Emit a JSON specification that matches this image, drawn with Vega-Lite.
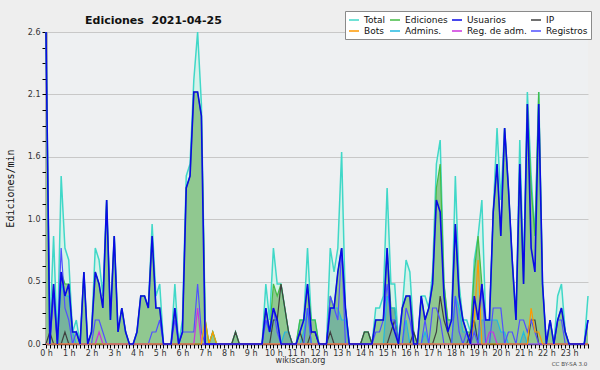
{
"$schema": "https://vega.github.io/schema/vega-lite/v6.json",
"width": 542, "height": 312,
"autosize": {"type": "none"},
"padding": {"left": 46, "top": 32, "right": 12, "bottom": 26},
"background": "#eeeeee",
"title": {"text": "Ediciones\u00a0 2021-04-25", "anchor": "start", "frame": "group", "dx": 39, "dy": 24, "offset": 0, "font": "DejaVu Sans", "fontSize": 11, "fontWeight": "bold", "color": "#111111", "baseline": "alphabetic"},
"data": {"values": [
{"t":0,"T":2.6,"E":2.6,"U":2.6,"I":0,"B":0,"A":0,"M":0,"R":0},
{"t":10,"T":0.1,"E":0.1,"U":0,"I":0.1,"B":0,"A":0,"M":0,"R":0},
{"t":20,"T":0.9,"E":0.5,"U":0.5,"I":0,"B":0,"A":0,"M":0,"R":0.4},
{"t":30,"T":0,"E":0,"U":0,"I":0,"B":0,"A":0,"M":0,"R":0},
{"t":40,"T":1.4,"E":0.6,"U":0.6,"I":0,"B":0,"A":0.5,"M":0,"R":0.8},
{"t":50,"T":0.8,"E":0.5,"U":0.4,"I":0.1,"B":0,"A":0.4,"M":0,"R":0.3},
{"t":60,"T":0.7,"E":0.5,"U":0.5,"I":0,"B":0,"A":0.4,"M":0,"R":0.2},
{"t":70,"T":0.1,"E":0.1,"U":0.1,"I":0,"B":0,"A":0.1,"M":0,"R":0},
{"t":80,"T":0.2,"E":0.1,"U":0.1,"I":0,"B":0,"A":0,"M":0,"R":0.1},
{"t":90,"T":0,"E":0,"U":0,"I":0,"B":0,"A":0,"M":0,"R":0},
{"t":100,"T":0.6,"E":0.6,"U":0.6,"I":0,"B":0,"A":0,"M":0,"R":0},
{"t":110,"T":0,"E":0,"U":0,"I":0,"B":0,"A":0,"M":0,"R":0},
{"t":120,"T":0.1,"E":0.1,"U":0.1,"I":0,"B":0,"A":0,"M":0,"R":0},
{"t":130,"T":0.8,"E":0.6,"U":0.6,"I":0,"B":0,"A":0,"M":0,"R":0.2},
{"t":140,"T":0.7,"E":0.5,"U":0.5,"I":0,"B":0,"A":0,"M":0.1,"R":0.2},
{"t":150,"T":0.4,"E":0.3,"U":0.3,"I":0,"B":0,"A":0,"M":0,"R":0.1},
{"t":160,"T":1.2,"E":1.2,"U":1.2,"I":0,"B":0,"A":0,"M":0,"R":0},
{"t":170,"T":0.2,"E":0.2,"U":0.2,"I":0,"B":0,"A":0,"M":0,"R":0},
{"t":180,"T":0.9,"E":0.9,"U":0.9,"I":0,"B":0,"A":0,"M":0,"R":0},
{"t":190,"T":0.1,"E":0.1,"U":0.1,"I":0,"B":0,"A":0,"M":0,"R":0},
{"t":200,"T":0.3,"E":0.3,"U":0.3,"I":0,"B":0,"A":0,"M":0,"R":0},
{"t":210,"T":0.1,"E":0.1,"U":0.1,"I":0,"B":0,"A":0,"M":0,"R":0},
{"t":220,"T":0,"E":0,"U":0,"I":0,"B":0,"A":0,"M":0,"R":0},
{"t":230,"T":0,"E":0,"U":0,"I":0,"B":0,"A":0,"M":0,"R":0},
{"t":240,"T":0.1,"E":0.1,"U":0.1,"I":0,"B":0,"A":0,"M":0,"R":0},
{"t":250,"T":0.4,"E":0.4,"U":0.4,"I":0,"B":0,"A":0,"M":0,"R":0},
{"t":260,"T":0.4,"E":0.4,"U":0.4,"I":0,"B":0,"A":0,"M":0,"R":0},
{"t":270,"T":0.3,"E":0.3,"U":0.3,"I":0,"B":0,"A":0,"M":0,"R":0},
{"t":280,"T":1.0,"E":0.9,"U":0.9,"I":0,"B":0,"A":0,"M":0,"R":0.1},
{"t":290,"T":0.4,"E":0.3,"U":0.3,"I":0,"B":0,"A":0,"M":0,"R":0.1},
{"t":300,"T":0.5,"E":0.3,"U":0.3,"I":0,"B":0,"A":0,"M":0,"R":0.2},
{"t":310,"T":0,"E":0,"U":0,"I":0,"B":0,"A":0,"M":0,"R":0},
{"t":320,"T":0,"E":0,"U":0,"I":0,"B":0,"A":0,"M":0,"R":0},
{"t":330,"T":0,"E":0,"U":0,"I":0,"B":0,"A":0,"M":0,"R":0},
{"t":340,"T":0.5,"E":0.3,"U":0.3,"I":0,"B":0,"A":0,"M":0,"R":0.2},
{"t":350,"T":0,"E":0,"U":0,"I":0,"B":0,"A":0,"M":0,"R":0},
{"t":360,"T":0.2,"E":0.1,"U":0.1,"I":0,"B":0,"A":0,"M":0,"R":0.1},
{"t":370,"T":1.4,"E":1.3,"U":1.3,"I":0,"B":0,"A":0,"M":0,"R":0.1},
{"t":380,"T":1.5,"E":1.4,"U":1.4,"I":0,"B":0,"A":0,"M":0,"R":0.1},
{"t":390,"T":2.2,"E":2.1,"U":2.1,"I":0,"B":0,"A":0,"M":0,"R":0.1},
{"t":400,"T":2.6,"E":2.1,"U":2.1,"I":0,"B":0,"A":0,"M":0.3,"R":0.5},
{"t":410,"T":2.0,"E":1.9,"U":1.9,"I":0,"B":0,"A":0,"M":0,"R":0.1},
{"t":420,"T":0.2,"E":0.2,"U":0,"I":0,"B":0.2,"A":0,"M":0,"R":0},
{"t":430,"T":0,"E":0,"U":0,"I":0,"B":0,"A":0,"M":0,"R":0},
{"t":440,"T":0.1,"E":0.1,"U":0,"I":0,"B":0.1,"A":0,"M":0,"R":0},
{"t":450,"T":0,"E":0,"U":0,"I":0,"B":0,"A":0,"M":0,"R":0},
{"t":460,"T":0,"E":0,"U":0,"I":0,"B":0,"A":0,"M":0,"R":0},
{"t":470,"T":0,"E":0,"U":0,"I":0,"B":0,"A":0,"M":0,"R":0},
{"t":480,"T":0,"E":0,"U":0,"I":0,"B":0,"A":0,"M":0,"R":0},
{"t":490,"T":0,"E":0,"U":0,"I":0,"B":0,"A":0,"M":0,"R":0},
{"t":500,"T":0.1,"E":0.1,"U":0,"I":0.1,"B":0,"A":0,"M":0,"R":0},
{"t":510,"T":0,"E":0,"U":0,"I":0,"B":0,"A":0,"M":0,"R":0},
{"t":520,"T":0,"E":0,"U":0,"I":0,"B":0,"A":0,"M":0,"R":0},
{"t":530,"T":0,"E":0,"U":0,"I":0,"B":0,"A":0,"M":0,"R":0},
{"t":540,"T":0,"E":0,"U":0,"I":0,"B":0,"A":0,"M":0,"R":0},
{"t":550,"T":0,"E":0,"U":0,"I":0,"B":0,"A":0,"M":0,"R":0},
{"t":560,"T":0,"E":0,"U":0,"I":0,"B":0,"A":0,"M":0,"R":0},
{"t":570,"T":0,"E":0,"U":0,"I":0,"B":0,"A":0,"M":0,"R":0},
{"t":580,"T":0.5,"E":0.3,"U":0.3,"I":0,"B":0,"A":0.2,"M":0,"R":0.2},
{"t":590,"T":0.2,"E":0.1,"U":0.1,"I":0,"B":0,"A":0.1,"M":0,"R":0.1},
{"t":600,"T":0.8,"E":0.5,"U":0.3,"I":0.2,"B":0,"A":0.2,"M":0,"R":0.3},
{"t":610,"T":0.5,"E":0.4,"U":0.2,"I":0.2,"B":0,"A":0.2,"M":0,"R":0.1},
{"t":620,"T":0.5,"E":0.5,"U":0,"I":0.5,"B":0,"A":0,"M":0,"R":0},
{"t":630,"T":0.3,"E":0.3,"U":0,"I":0.3,"B":0,"A":0.1,"M":0,"R":0},
{"t":640,"T":0.1,"E":0.1,"U":0,"I":0.1,"B":0,"A":0.1,"M":0,"R":0},
{"t":650,"T":0,"E":0,"U":0,"I":0,"B":0,"A":0,"M":0,"R":0},
{"t":660,"T":0,"E":0,"U":0,"I":0,"B":0,"A":0,"M":0,"R":0},
{"t":670,"T":0.2,"E":0.2,"U":0.1,"I":0.1,"B":0,"A":0,"M":0,"R":0},
{"t":680,"T":0.2,"E":0.2,"U":0.2,"I":0,"B":0,"A":0.1,"M":0,"R":0},
{"t":690,"T":0.8,"E":0.5,"U":0.5,"I":0,"B":0,"A":0.3,"M":0,"R":0.3},
{"t":700,"T":0.2,"E":0.2,"U":0.1,"I":0.1,"B":0,"A":0,"M":0,"R":0},
{"t":710,"T":0.2,"E":0.2,"U":0.1,"I":0.1,"B":0,"A":0,"M":0,"R":0},
{"t":720,"T":0,"E":0,"U":0,"I":0,"B":0,"A":0,"M":0,"R":0},
{"t":730,"T":0,"E":0,"U":0,"I":0,"B":0,"A":0,"M":0,"R":0},
{"t":740,"T":0,"E":0,"U":0,"I":0,"B":0,"A":0,"M":0,"R":0},
{"t":750,"T":0.8,"E":0.4,"U":0.3,"I":0.1,"B":0,"A":0.3,"M":0,"R":0.4},
{"t":760,"T":0.6,"E":0.3,"U":0.3,"I":0,"B":0,"A":0.3,"M":0,"R":0.3},
{"t":770,"T":0.8,"E":0.6,"U":0.6,"I":0,"B":0,"A":0.3,"M":0,"R":0.2},
{"t":780,"T":1.6,"E":0.8,"U":0.8,"I":0,"B":0,"A":0.2,"M":0,"R":0.8},
{"t":790,"T":0.3,"E":0.3,"U":0.3,"I":0,"B":0,"A":0.2,"M":0,"R":0},
{"t":800,"T":0,"E":0,"U":0,"I":0,"B":0,"A":0,"M":0,"R":0},
{"t":810,"T":0,"E":0,"U":0,"I":0,"B":0,"A":0,"M":0,"R":0},
{"t":820,"T":0,"E":0,"U":0,"I":0,"B":0,"A":0,"M":0,"R":0},
{"t":830,"T":0,"E":0,"U":0,"I":0,"B":0,"A":0,"M":0,"R":0},
{"t":840,"T":0.1,"E":0.1,"U":0,"I":0.1,"B":0,"A":0,"M":0,"R":0},
{"t":850,"T":0.1,"E":0.1,"U":0,"I":0.1,"B":0,"A":0,"M":0,"R":0},
{"t":860,"T":0,"E":0,"U":0,"I":0,"B":0,"A":0,"M":0,"R":0},
{"t":870,"T":0.3,"E":0.2,"U":0.2,"I":0,"B":0,"A":0,"M":0,"R":0.1},
{"t":880,"T":0.3,"E":0.2,"U":0.2,"I":0,"B":0,"A":0,"M":0,"R":0.1},
{"t":890,"T":0.4,"E":0.2,"U":0.2,"I":0,"B":0,"A":0,"M":0,"R":0.2},
{"t":900,"T":1.3,"E":0.8,"U":0.8,"I":0,"B":0,"A":0.4,"M":0,"R":0.5},
{"t":910,"T":0.5,"E":0.3,"U":0.2,"I":0.1,"B":0,"A":0.3,"M":0,"R":0.2},
{"t":920,"T":0.5,"E":0.3,"U":0.1,"I":0.2,"B":0,"A":0.3,"M":0,"R":0.2},
{"t":930,"T":0,"E":0,"U":0,"I":0,"B":0,"A":0,"M":0,"R":0},
{"t":940,"T":0.3,"E":0.3,"U":0.3,"I":0,"B":0,"A":0,"M":0,"R":0},
{"t":950,"T":0.7,"E":0.4,"U":0.4,"I":0,"B":0,"A":0.2,"M":0,"R":0.3},
{"t":960,"T":0.6,"E":0.4,"U":0.4,"I":0,"B":0,"A":0,"M":0,"R":0.2},
{"t":970,"T":0.1,"E":0.1,"U":0,"I":0.1,"B":0,"A":0,"M":0,"R":0},
{"t":980,"T":0,"E":0,"U":0,"I":0,"B":0,"A":0,"M":0,"R":0},
{"t":990,"T":0.4,"E":0.4,"U":0.4,"I":0,"B":0,"A":0,"M":0,"R":0},
{"t":1000,"T":0.4,"E":0.2,"U":0.2,"I":0,"B":0,"A":0.1,"M":0,"R":0.2},
{"t":1010,"T":0.3,"E":0.3,"U":0.3,"I":0,"B":0,"A":0,"M":0,"R":0},
{"t":1020,"T":0.6,"E":0.5,"U":0.5,"I":0,"B":0,"A":0,"M":0,"R":0.3},
{"t":1030,"T":1.5,"E":1.3,"U":1.2,"I":0.1,"B":0,"A":0,"M":0,"R":0.3},
{"t":1040,"T":1.7,"E":1.5,"U":1.1,"I":0.4,"B":0,"A":0,"M":0,"R":0.2},
{"t":1050,"T":0.5,"E":0.5,"U":0.4,"I":0.2,"B":0,"A":0,"M":0,"R":0},
{"t":1060,"T":0.2,"E":0.2,"U":0.1,"I":0.1,"B":0,"A":0,"M":0,"R":0},
{"t":1070,"T":0.2,"E":0.2,"U":0.2,"I":0,"B":0,"A":0,"M":0,"R":0},
{"t":1080,"T":1.4,"E":1.0,"U":1.0,"I":0,"B":0,"A":0.4,"M":0,"R":0.4},
{"t":1090,"T":0.5,"E":0.4,"U":0.4,"I":0,"B":0,"A":0.3,"M":0,"R":0.1},
{"t":1100,"T":0.2,"E":0.2,"U":0.2,"I":0,"B":0,"A":0.1,"M":0,"R":0},
{"t":1110,"T":0.2,"E":0.1,"U":0.1,"I":0,"B":0,"A":0.1,"M":0,"R":0.1},
{"t":1120,"T":0.1,"E":0.1,"U":0,"I":0.1,"B":0,"A":0,"M":0,"R":0},
{"t":1130,"T":0.7,"E":0.6,"U":0.4,"I":0.2,"B":0.2,"A":0.2,"M":0,"R":0.1},
{"t":1140,"T":0.9,"E":0.9,"U":0.2,"I":0,"B":0.7,"A":0,"M":0,"R":0},
{"t":1150,"T":1.2,"E":0.5,"U":0.5,"I":0,"B":0,"A":0.2,"M":0,"R":0.5},
{"t":1160,"T":0.2,"E":0.2,"U":0.2,"I":0,"B":0,"A":0.2,"M":0,"R":0},
{"t":1170,"T":0.2,"E":0.2,"U":0.2,"I":0,"B":0,"A":0.2,"M":0.1,"R":0},
{"t":1180,"T":1.1,"E":1.1,"U":1.1,"I":0,"B":0,"A":0.2,"M":0.1,"R":0.3},
{"t":1190,"T":1.8,"E":1.5,"U":1.5,"I":0,"B":0,"A":0.2,"M":0,"R":0.3},
{"t":1200,"T":1.2,"E":0.9,"U":0.9,"I":0,"B":0,"A":0.1,"M":0,"R":0.3},
{"t":1210,"T":1.8,"E":1.8,"U":1.8,"I":0,"B":0,"A":0.1,"M":0,"R":0},
{"t":1220,"T":1.3,"E":1.3,"U":1.3,"I":0,"B":0,"A":0,"M":0,"R":0.1},
{"t":1230,"T":0.7,"E":0.7,"U":0.7,"I":0,"B":0,"A":0,"M":0,"R":0.1},
{"t":1240,"T":0.2,"E":0.2,"U":0.2,"I":0,"B":0,"A":0,"M":0,"R":0},
{"t":1250,"T":1.7,"E":1.5,"U":1.5,"I":0,"B":0,"A":0,"M":0,"R":0.2},
{"t":1260,"T":0.6,"E":0.5,"U":0.5,"I":0,"B":0,"A":0.1,"M":0,"R":0.2},
{"t":1270,"T":2.1,"E":2.0,"U":2.0,"I":0,"B":0,"A":0,"M":0,"R":0.1},
{"t":1280,"T":1.4,"E":1.3,"U":0.8,"I":0.2,"B":0.3,"A":0,"M":0,"R":0.2},
{"t":1290,"T":0.9,"E":0.9,"U":0.6,"I":0.2,"B":0.1,"A":0,"M":0,"R":0.1},
{"t":1300,"T":2.1,"E":2.1,"U":2.0,"I":0,"B":0.1,"A":0,"M":0,"R":0},
{"t":1310,"T":0.5,"E":0.5,"U":0.5,"I":0,"B":0,"A":0,"M":0,"R":0},
{"t":1320,"T":0,"E":0,"U":0,"I":0,"B":0,"A":0,"M":0,"R":0},
{"t":1330,"T":0.2,"E":0.2,"U":0.2,"I":0,"B":0,"A":0,"M":0,"R":0},
{"t":1340,"T":0,"E":0,"U":0,"I":0,"B":0,"A":0,"M":0,"R":0},
{"t":1350,"T":0.4,"E":0.2,"U":0.2,"I":0,"B":0,"A":0,"M":0,"R":0.2},
{"t":1360,"T":0.5,"E":0.3,"U":0.3,"I":0,"B":0,"A":0,"M":0,"R":0.2},
{"t":1370,"T":0.1,"E":0.1,"U":0.1,"I":0,"B":0,"A":0,"M":0,"R":0},
{"t":1380,"T":0,"E":0,"U":0,"I":0,"B":0,"A":0,"M":0,"R":0},
{"t":1390,"T":0,"E":0,"U":0,"I":0,"B":0,"A":0,"M":0,"R":0},
{"t":1400,"T":0,"E":0,"U":0,"I":0,"B":0,"A":0,"M":0,"R":0},
{"t":1410,"T":0,"E":0,"U":0,"I":0,"B":0,"A":0,"M":0,"R":0},
{"t":1420,"T":0,"E":0,"U":0,"I":0,"B":0,"A":0,"M":0,"R":0},
{"t":1430,"T":0.4,"E":0.2,"U":0.2,"I":0,"B":0,"A":0,"M":0,"R":0.2}
]},
"encoding": {
  "x": {"field": "t", "type": "quantitative",
    "scale": {"domain": [0, 1430], "nice": false, "zero": false},
    "axis": {"tickCount": 143, "labelExpr": "datum.value % 60 == 0 ? (datum.value / 60) + ' h' : ''",
      "labelOverlap": false, "labelFlush": false, "labelBound": false, "grid": false,
      "tickSize": 4, "tickColor": "#000000", "domainColor": "#000000", "domainWidth": 1.5,
      "labelFont": "DejaVu Sans", "labelFontSize": 8, "labelColor": "#333333", "labelPadding": 1,
      "title": "wikiscan.org", "titleFont": "DejaVu Sans", "titleFontSize": 8, "titleFontWeight": "normal",
      "titleColor": "#333333", "titleX": 254, "titleY": 18.5, "titleAlign": "center", "titleBaseline": "alphabetic"}}
},
"layer": [
  {"mark": {"type": "area", "color": "#d6f2ea"},
   "encoding": {"y": {"field": "T", "type": "quantitative", "scale": {"domain": [0, 2.6], "nice": false},
     "axis": {"values": [0,0.13,0.26,0.39,0.52,0.65,0.78,0.91,1.04,1.17,1.3,1.43,1.56,1.69,1.82,1.95,2.08,2.21,2.34,2.47,2.6],
       "labelExpr": "round(datum.value / 0.13) % 4 == 0 ? format(datum.value, '.1f') : ''",
       "grid": true, "gridColor": "#c8c8c8",
       "gridOpacity": {"condition": {"test": "round(datum.value / 0.13) % 4 == 0", "value": 1}, "value": 0},
       "tickSize": 4, "tickColor": "#000000", "domainColor": "#000000", "domainWidth": 1.5,
       "labelFont": "DejaVu Sans", "labelFontSize": 8, "labelColor": "#333333", "labelPadding": 2,
       "title": "Ediciones/min", "titleFont": "DejaVu Sans Mono", "titleFontSize": 10, "titleFontWeight": "normal",
       "titleColor": "#111111", "titleX": -33, "titleY": 156, "titleAlign": "center", "titleBaseline": "alphabetic", "titleAngle": 270}}}},
  {"mark": {"type": "area", "color": "#90c890"},
   "encoding": {"y": {"field": "E", "type": "quantitative", "scale": {"domain": [0, 2.6], "nice": false}, "axis": null}}},
  {"mark": {"type": "area", "color": "#4a8fb8", "opacity": 0.35},
   "encoding": {"y": {"field": "A", "type": "quantitative", "scale": {"domain": [0, 2.6], "nice": false}, "axis": null}}},
  {"mark": {"type": "line", "strokeWidth": 1.5},
   "encoding": {"y": {"field": "T", "type": "quantitative", "scale": {"domain": [0, 2.6], "nice": false}, "axis": null},
     "color": {"datum": "Total",
       "scale": {"domain": ["Total", "Ediciones", "Usuarios", "IP", "Bots", "Admins.", "Reg. de adm.", "Registros"],
                 "range": ["#40d8c8", "#44bb44", "#0a0ae6", "#404040", "#ff9900", "#22b8e0", "#cc33dd", "#5050ff"]},
       "legend": {"orient": "none", "legendX": 299, "legendY": -21, "columns": 4, "direction": "horizontal",
         "title": null, "fillColor": "#ffffff", "strokeColor": "#8a8a8a", "padding": 3,
         "labelFont": "DejaVu Sans", "labelFontSize": 9, "labelColor": "#111111",
         "symbolType": "stroke", "symbolSize": 100, "symbolStrokeWidth": 1.5,
         "labelOffset": 4, "columnPadding": 1, "rowPadding": 0}}}},
  {"mark": {"type": "line", "strokeWidth": 1.2},
   "encoding": {"y": {"field": "E", "type": "quantitative", "scale": {"domain": [0, 2.6], "nice": false}, "axis": null},
     "color": {"datum": "Ediciones"}}},
  {"mark": {"type": "line", "strokeWidth": 1.2},
   "encoding": {"y": {"field": "A", "type": "quantitative", "scale": {"domain": [0, 2.6], "nice": false}, "axis": null},
     "color": {"datum": "Admins."}}},
  {"mark": {"type": "line", "strokeWidth": 1.2},
   "encoding": {"y": {"field": "I", "type": "quantitative", "scale": {"domain": [0, 2.6], "nice": false}, "axis": null},
     "color": {"datum": "IP"}}},
  {"mark": {"type": "line", "strokeWidth": 1.2},
   "encoding": {"y": {"field": "R", "type": "quantitative", "scale": {"domain": [0, 2.6], "nice": false},
     "axis": {"orient": "right", "labels": false, "ticks": false, "domain": false, "grid": false,
       "title": "CC BY-SA 3.0", "titleAngle": 0, "titleX": -19, "titleY": 333, "titleAlign": "center",
       "titleBaseline": "alphabetic", "titleFont": "DejaVu Sans", "titleFontSize": 5.5, "titleFontWeight": "normal", "titleColor": "#444444"}},
     "color": {"datum": "Registros"}}},
  {"mark": {"type": "line", "strokeWidth": 1.2},
   "encoding": {"y": {"field": "M", "type": "quantitative", "scale": {"domain": [0, 2.6], "nice": false}, "axis": null},
     "color": {"datum": "Reg. de adm."}}},
  {"mark": {"type": "line", "strokeWidth": 1.2},
   "encoding": {"y": {"field": "B", "type": "quantitative", "scale": {"domain": [0, 2.6], "nice": false}, "axis": null},
     "color": {"datum": "Bots"}}},
  {"mark": {"type": "line", "strokeWidth": 1.6},
   "encoding": {"y": {"field": "U", "type": "quantitative", "scale": {"domain": [0, 2.6], "nice": false}, "axis": null},
     "color": {"datum": "Usuarios"}}}
],
"resolve": {"axis": {"y": "independent"}},
"config": {"view": {"fill": "#eef0f2", "stroke": null}}
}
